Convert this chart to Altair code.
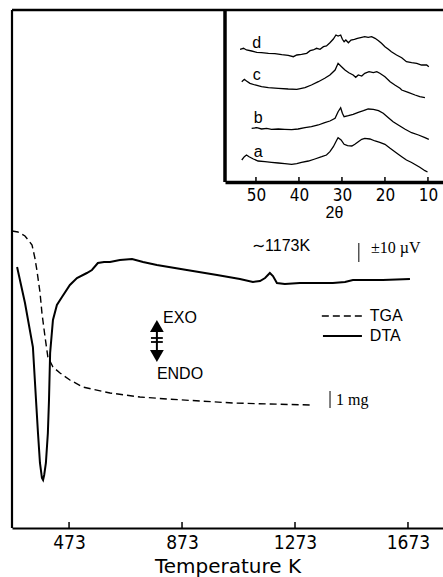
import altair as alt
import pandas as pd

# ---------------- main panel (DTA / TGA) ----------------
# temperature in K, signal in arbitrary plot units (0 = bottom of frame)
dta_T = [289, 317, 345, 356, 363, 370, 377, 381, 385, 391, 398, 402, 406, 416, 430, 448, 476, 501,
         536, 554, 575, 597, 618, 653, 696, 735, 784, 890, 997, 1078, 1124, 1149, 1167, 1184,
         1195, 1209, 1237, 1290, 1407, 1450, 1478, 1584, 1680]
dta_v = [261, 225, 181, 128, 95, 65, 50, 48, 53, 65, 95, 128, 175, 208, 223, 231, 243, 250,
         255, 258, 265, 266, 266, 268, 269, 266, 263, 258, 253, 249, 246, 247, 250, 255,
         252, 245, 244, 245, 245, 246, 248, 248, 249]
tga_T = [271, 292, 317, 342, 352, 359, 370, 377, 388, 398, 416, 441, 476, 522, 618, 724, 820,
         936, 1053, 1184, 1326]
tga_v = [297, 296, 292, 283, 270, 258, 236, 215, 191, 171, 161, 155, 148, 141, 135, 131, 129,
         127, 125, 124, 123]
main_ticks = [473, 873, 1273, 1673]
main_T_domain = [271, 1797]
main_v_domain = [0, 518]

# annotations (text, T, v)
sans_labels = ["∼1173K", "EXO", "ENDO", "TGA", "DTA"]
sans_T = [1121, 806, 784, 1538, 1538]
sans_v = [282, 210, 154, 212, 192]
serif_labels = ["±10 µV", "1 mg"]
serif_T = [1542, 1418]
serif_v = [280, 128]
# scale bars (T, v from, v to)
bar_T = [1499, 1397]
bar_v1 = [266, 120]
bar_v2 = [285, 137]
# legend samples (T from, T to, v)
leg_T1 = [1368, 1372]
leg_T2 = [1510, 1510]
leg_v = [212, 192]
# EXO/ENDO double arrow
arrow_T = 784
arrow_up_v = 202
arrow_down_v = 172
cross_T = [763, 805]
cross_v = [190, 186]

# ---------------- inset (XRD) ----------------
d_tt = [53.7, 52.9, 52.2, 51.0, 49.8, 48.7, 47.1, 45.6, 44.0, 42.5, 41.3, 40.5, 39.4, 38.2, 37.4,
        36.7, 35.9, 35.1, 34.3, 33.6, 32.8, 32.0, 31.4, 30.9, 30.3, 29.9, 29.5, 29.1, 28.5, 27.9,
        27.1, 26.4, 25.4, 24.7, 23.9, 23.1, 22.3, 21.5, 20.8, 20.0, 19.2, 18.5, 17.3, 16.1, 15.0,
        13.8, 12.6, 11.5, 10.3, 9.8]
d_I = [132.7, 133.7, 132.0, 131.0, 129.7, 129.3, 128.7, 128.3, 127.3, 126.7, 125.3, 127.0, 127.7,
       128.7, 131.3, 132.0, 133.7, 132.7, 135.3, 136.0, 139.3, 143.0, 147.0, 146.0, 147.0, 142.7,
       140.3, 142.0, 139.3, 142.0, 142.7, 143.7, 144.7, 145.3, 144.7, 145.3, 143.7, 141.3, 138.7,
       135.3, 132.7, 130.3, 127.0, 124.3, 120.3, 119.3, 118.7, 117.0, 117.0, 115.3]
c_tt = [53.3, 52.7, 52.2, 51.4, 50.2, 48.7, 47.1, 44.8, 42.5, 40.5, 38.6, 37.1, 35.5, 34.0, 32.8,
        31.6, 30.9, 30.1, 29.3, 28.4, 27.4, 26.8, 26.2, 25.4, 24.7, 23.7, 22.7, 21.9, 21.2, 20.0,
        18.8, 17.7, 16.5, 16.1, 14.6, 13.0, 11.9, 10.7]
c_I = [100.3, 102.7, 101.0, 98.7, 97.0, 95.3, 94.3, 93.7, 93.0, 92.7, 94.3, 97.0, 100.3, 103.7,
       107.0, 112.0, 118.7, 115.3, 112.0, 109.3, 107.0, 104.7, 107.0, 106.0, 108.7, 110.3, 109.3,
       110.3, 108.7, 105.3, 100.3, 97.0, 93.7, 92.0, 89.7, 87.0, 85.3, 84.3]
b_tt = [51.0, 49.8, 48.7, 47.5, 46.4, 44.8, 43.3, 41.7, 40.2, 38.6, 37.1, 35.5, 34.0, 32.8, 31.6,
        30.9, 30.3, 29.9, 29.5, 28.5, 27.4, 26.2, 25.0, 23.9, 22.7, 21.5, 20.4, 19.2, 18.1, 16.9,
        15.3, 13.8, 12.2, 10.7, 9.8]
b_I = [53.7, 54.3, 53.0, 53.7, 52.7, 53.0, 52.7, 52.3, 53.0, 54.3, 55.3, 57.0, 59.3, 61.0, 63.7,
       70.3, 74.3, 68.7, 65.3, 66.3, 67.7, 69.7, 71.3, 73.0, 72.7, 71.3, 68.7, 64.3, 60.3, 57.0,
       52.7, 49.3, 47.0, 44.3, 42.7]
a_tt = [53.3, 52.7, 52.2, 51.6, 50.6, 49.5, 47.9, 46.4, 44.8, 43.3, 41.7, 40.5, 39.4, 37.8, 36.3,
        34.7, 33.6, 32.8, 32.0, 31.2, 30.9, 30.2, 29.5, 28.7, 27.7, 27.0, 26.2, 25.4, 24.7, 23.5,
        22.3, 21.2, 20.0, 18.8, 17.7, 16.1, 15.0, 13.8, 13.0, 11.9, 10.7, 10.1]
a_I = [22.0, 25.3, 27.0, 25.3, 23.0, 21.0, 20.3, 19.7, 19.0, 18.3, 17.7, 18.3, 19.7, 21.0, 23.0,
       25.3, 27.0, 30.3, 35.3, 42.0, 44.3, 42.0, 37.7, 36.3, 36.0, 37.7, 40.3, 42.7, 43.7, 43.0,
       41.0, 39.7, 37.7, 33.7, 30.3, 25.3, 22.0, 19.5, 17.5, 14.7, 11.3, 10.0]
inset_ticks = [50, 40, 30, 20, 10]
inset_tt_domain = [57.2, 6.5]
inset_I_domain = [0, 172]
pattern_labels = ["d", "c", "b", "a"]
pattern_lab_tt = [49.8, 49.8, 49.5, 49.5]
pattern_lab_I = [139, 107, 64, 30]

# ---------------- layout ----------------
W, H = 431, 518
INSET_X0, INSET_H = 213, 172

SANS = "Liberation Sans"
NARROW = "Liberation Sans Narrow, DejaVu Sans Condensed, Liberation Sans"
SERIF = "Liberation Serif"

xs = alt.Scale(domain=main_T_domain, nice=False, zero=False)
ys = alt.Scale(domain=main_v_domain, nice=False, zero=False)
X = alt.X("T:Q", scale=xs, axis=alt.Axis(
    title="Temperature K", orient="bottom", values=main_ticks, format="d", ticks=False, grid=False,
    labelPadding=5, labelFont=NARROW, labelFontSize=19, labelColor="black",
    titleFont="DejaVu Sans", titleFontSize=20, titleFontWeight="normal", titleColor="black",
    titlePadding=4, domainWidth=2, domainColor="black"))
Y = alt.Y("v:Q", scale=ys, axis=None)

dta_df = pd.DataFrame({"T": dta_T, "v": dta_v})
tga_df = pd.DataFrame({"T": tga_T, "v": tga_v})

dta = alt.Chart(dta_df).mark_line(color="black", strokeWidth=2).encode(x=X, y=Y)
tga = alt.Chart(tga_df).mark_line(color="black", strokeWidth=1.4, strokeDash=[7, 4]).encode(x=X, y=Y)

tick_df = pd.DataFrame({"T": main_ticks, "v": [0] * len(main_ticks), "v2": [6] * len(main_ticks)})
ticks = alt.Chart(tick_df).mark_rule(color="black", strokeWidth=1.5).encode(x=X, y=Y, y2="v2:Q")

top_df = pd.DataFrame({"T": [main_T_domain[0]], "T2": [main_T_domain[1]], "v": [main_v_domain[1]]})
top = alt.Chart(top_df).mark_rule(color="black", strokeWidth=2.5).encode(x=X, x2="T2:Q", y=Y)
left_df = pd.DataFrame({"T": [main_T_domain[0]], "v": [main_v_domain[0]], "v2": [main_v_domain[1]]})
left = alt.Chart(left_df).mark_rule(color="black", strokeWidth=2.2).encode(x=X, y=Y, y2="v2:Q")

sans_df = pd.DataFrame({"T": sans_T, "v": sans_v, "label": sans_labels})
sans_txt = alt.Chart(sans_df).mark_text(align="left", baseline="middle", font=SANS,
                                        fontSize=16, color="black").encode(x=X, y=Y, text="label:N")
serif_df = pd.DataFrame({"T": serif_T, "v": serif_v, "label": serif_labels})
serif_txt = alt.Chart(serif_df).mark_text(align="left", baseline="middle", font=SERIF,
                                          fontSize=16, color="black").encode(x=X, y=Y, text="label:N")

bar_df = pd.DataFrame({"T": bar_T, "v": bar_v1, "v2": bar_v2})
bars = alt.Chart(bar_df).mark_rule(color="black", strokeWidth=1).encode(x=X, y=Y, y2="v2:Q")

leg_dash = alt.Chart(pd.DataFrame({"T": [leg_T1[0]], "T2": [leg_T2[0]], "v": [leg_v[0]]})).mark_rule(
    color="black", strokeWidth=1.4, strokeDash=[7, 4]).encode(x=X, x2="T2:Q", y=Y)
leg_solid = alt.Chart(pd.DataFrame({"T": [leg_T1[1]], "T2": [leg_T2[1]], "v": [leg_v[1]]})).mark_rule(
    color="black", strokeWidth=2).encode(x=X, x2="T2:Q", y=Y)

up = alt.Chart(pd.DataFrame({"T": [arrow_T], "v": [arrow_up_v]})).mark_point(
    shape="triangle-up", filled=True, size=190, color="black", opacity=1).encode(x=X, y=Y)
down = alt.Chart(pd.DataFrame({"T": [arrow_T], "v": [arrow_down_v]})).mark_point(
    shape="triangle-down", filled=True, size=190, color="black", opacity=1).encode(x=X, y=Y)
shaft = alt.Chart(pd.DataFrame({"T": [arrow_T], "v": [arrow_down_v], "v2": [arrow_up_v]})).mark_rule(
    color="black", strokeWidth=2).encode(x=X, y=Y, y2="v2:Q")
cross = alt.Chart(pd.DataFrame({"T": [cross_T[0]] * 2, "T2": [cross_T[1]] * 2, "v": cross_v})).mark_rule(
    color="black", strokeWidth=1.8).encode(x=X, x2="T2:Q", y=Y)

main = alt.layer(dta, tga, ticks, top, left, sans_txt, serif_txt, bars, leg_dash, leg_solid,
                 up, down, shaft, cross)

# ---------------- inset ----------------
rows = []
for s, tt, ii in [("d", d_tt, d_I), ("c", c_tt, c_I), ("b", b_tt, b_I), ("a", a_tt, a_I)]:
    for t_, i_ in zip(tt, ii):
        rows.append({"tt": t_, "I": i_, "s": s})
xrd_df = pd.DataFrame(rows)

ixs = alt.Scale(domain=inset_tt_domain, range=[INSET_X0, W], nice=False, zero=False)
iys = alt.Scale(domain=inset_I_domain, range=[INSET_H, 0], nice=False, zero=False)
IX = alt.X("tt:Q", scale=ixs, axis=alt.Axis(
    title="2θ", orient="bottom", offset=-(H - INSET_H), values=inset_ticks, format="d", ticks=False,
    grid=False, labelPadding=5, labelFont=NARROW, labelFontSize=17, labelColor="black",
    titleFont=SANS, titleFontSize=16, titleFontWeight="normal", titleColor="black",
    titlePadding=1, domainWidth=3.5, domainColor="black"))
IY = alt.Y("I:Q", scale=iys, axis=None)

xrd = alt.Chart(xrd_df).mark_line(color="black", strokeWidth=1.3).encode(
    x=IX, y=IY, detail="s:N", order="tt:Q")

itick_df = pd.DataFrame({"tt": inset_ticks, "I": [0] * 5, "I2": [5] * 5})
iticks = alt.Chart(itick_df).mark_rule(color="black", strokeWidth=1.5).encode(x=IX, y=IY, y2="I2:Q")

ileft_df = pd.DataFrame({"tt": [inset_tt_domain[0]], "I": [inset_I_domain[0]], "I2": [inset_I_domain[1]]})
ileft = alt.Chart(ileft_df).mark_rule(color="black", strokeWidth=3.5).encode(x=IX, y=IY, y2="I2:Q")

plab_df = pd.DataFrame({"tt": pattern_lab_tt, "I": pattern_lab_I, "label": pattern_labels})
plab = alt.Chart(plab_df).mark_text(align="center", baseline="middle", font=SANS, fontSize=16,
                                    color="black").encode(x=IX, y=IY, text="label:N")

inset = alt.layer(xrd, iticks, ileft, plab)

chart = alt.layer(main, inset).resolve_scale(x="independent", y="independent").properties(
    width=W, height=H, autosize="none",
    padding={"left": 12, "top": 10, "right": 0, "bottom": 49},
    background="white",
).configure_view(stroke=None).configure_axis(grid=False)

chart.save("out.html", embed_options={"renderer": "svg", "actions": False})
